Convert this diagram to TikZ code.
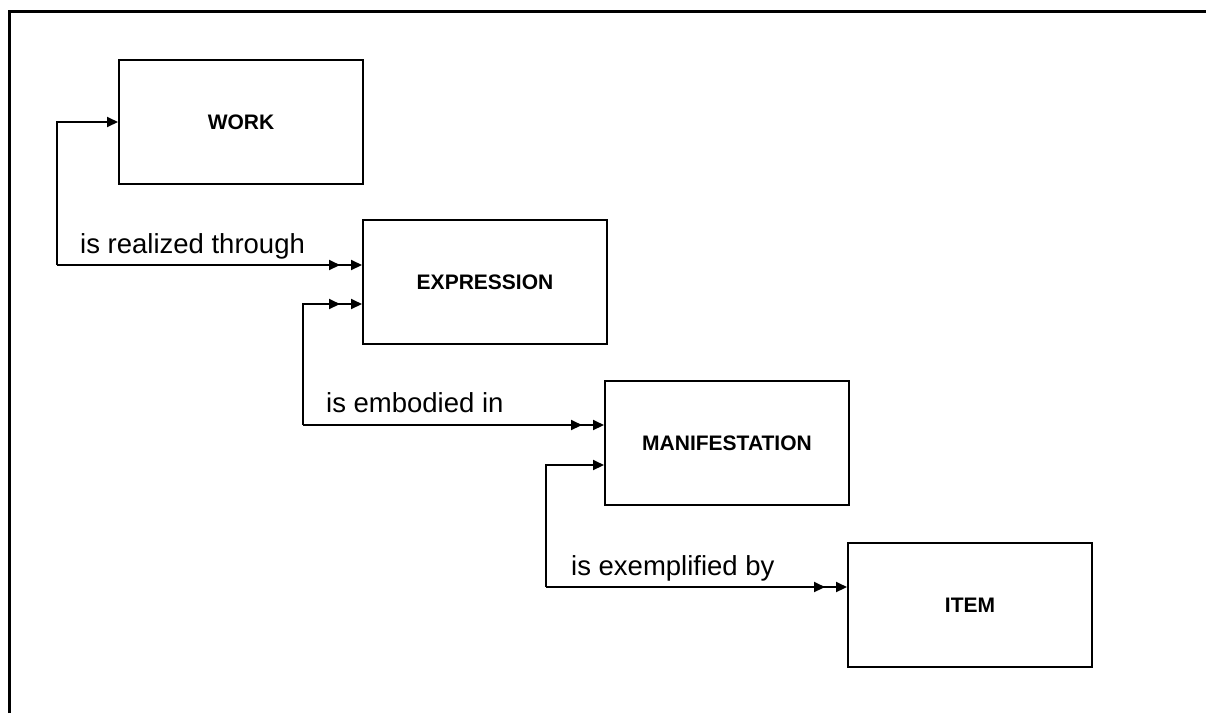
\documentclass[tikz,border=0pt]{standalone}
\usepackage{fontspec}
\setmainfont{Liberation Sans}
\usetikzlibrary{arrows.meta}
\tikzset{
  entity/.style={draw, line width=2pt, minimum width=244pt, minimum height=124pt, inner sep=0pt, font=\fontsize{21}{24}\selectfont\bfseries},
  rel/.style={anchor=base west, inner sep=0pt, font=\fontsize{27.5}{30}\selectfont},
  conn/.style={line width=2pt},
  sgl/.style={conn, -{Triangle[length=11pt,width=10pt]}},
  dbl/.style={conn, -{Triangle[length=11pt,width=10pt,sep=11pt]Triangle[length=11pt,width=10pt]}}
}
\begin{document}
\begin{tikzpicture}[x=1pt,y=-1pt]
\useasboundingbox (0,0) rectangle (1206,713);
\draw[line width=3pt] (9,713) -- (9,11) -- (1206,11);
\node[entity] (work) at (241,122) {WORK};
\node[entity] (expr) at (485,282) {EXPRESSION};
\node[entity] (mani) at (727,443) {MANIFESTATION};
\node[entity] (item) at (970,605) {ITEM};
% connector 1
\coordinate (k1) at (57,265);
\draw[sgl] (k1) |- (work.west);
\draw[dbl] (k1) -- ([yshift=17pt]expr.west);
\node[rel] (l1) at (80,253) {is realized through};
% connector 2
\coordinate (k2) at (303,425);
\draw[dbl] (k2) |- ([yshift=-22pt]expr.west);
\draw[dbl] (k2) -- ([yshift=18pt]mani.west);
\node[rel] (l2) at (326,412) {is embodied in};
% connector 3
\coordinate (k3) at (546,587);
\draw[sgl] (k3) |- ([yshift=-22pt]mani.west);
\draw[dbl] (k3) -- ([yshift=18pt]item.west);
\node[rel] (l3) at (571,575) {is exemplified by};
\end{tikzpicture}
\end{document}
